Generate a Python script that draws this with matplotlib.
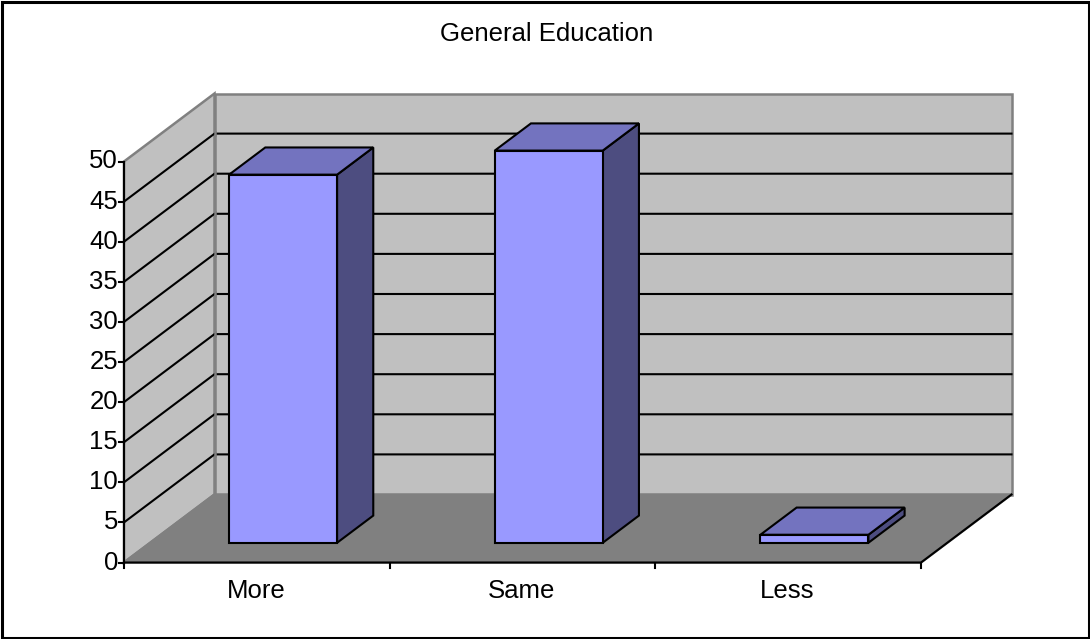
import matplotlib
matplotlib.use('Agg')
import matplotlib.pyplot as plt
from matplotlib.patches import Polygon, Rectangle

plt.rcParams['font.family'] = ['Liberation Sans', 'DejaVu Sans']

categories = ['More', 'Same', 'Less']
values = [45.9, 48.9, 1]
yticks = list(range(0, 55, 5))
title = 'General Education'

# pixels per unit, front plane
px_x = 797 / 3
px_y = 401 / 50
depth_x = 90.5 / px_x
depth_y = 68 / px_y
W, H = 1090, 639
base = 562.5  # pixel row of the zero line

fig = plt.figure(figsize=(W / 100, H / 100), dpi=100)
ax = fig.add_axes([0, 0, 1, 1])
ax.set_xlim(-124 / px_x, (W - 124) / px_x)
ax.set_ylim(-(H - base) / px_y, base / px_y)
ax.axis('off')

# outer frame
ax.add_patch(Polygon([(-122.5 / px_x, -(H - base - 1.5) / px_y), ((W - 125.5) / px_x, -(H - base - 1.5) / px_y),
                      ((W - 125.5) / px_x, (base - 1.5) / px_y), (-122.5 / px_x, (base - 1.5) / px_y)],
                     fc='white', ec='black', lw=2.2, zorder=0))

top = yticks[-1]
n = len(categories)
# walls and floor
ax.add_patch(Polygon([(0, 0), (0, top), (depth_x, top + depth_y), (depth_x, depth_y)], fc='#C0C0C0', ec='#808080', lw=1.8, zorder=1))
ax.add_patch(Polygon([(depth_x, depth_y), (depth_x, top + depth_y), (n + depth_x, top + depth_y), (n + depth_x, depth_y)],
                     fc='#C0C0C0', ec='#808080', lw=1.8, zorder=1))
ax.add_patch(Polygon([(0, 0), (depth_x, depth_y), (n + depth_x, depth_y), (n, 0)], fc='#808080', ec='#808080', lw=1.8, zorder=2))

# grid lines
for t in yticks[1:-1]:
    ax.plot([0, depth_x, n + depth_x], [t, t + depth_y, t + depth_y], color='black', lw=1.5, zorder=2)
    ax.plot([depth_x, depth_x], [t + depth_y - 0.2, t + depth_y + 0.2], color='#808080', lw=1.8, zorder=2)

# axes
ax.plot([0, 0], [0, top], color='black', lw=1.5, zorder=5)
ax.plot([0, n, n + depth_x], [0, 0, depth_y], color='black', lw=1.5, zorder=5)
for t in yticks:
    ax.plot([-5 / px_x, 0], [t, t], color='black', lw=1.5, zorder=5)
    ax.text(-6 / px_x, t, str(t), ha='right', va='center', fontsize=18.5, zorder=5)
for i in range(n + 1):
    ax.plot([i, i], [0, -5 / px_y], color='black', lw=1.5, zorder=5)

# bars
bar_w = 0.4065
start = 0.29
end = 0.69
for i, (c, v) in enumerate(zip(categories, values)):
    x0 = i + 0.5 - bar_w / 2 + start * depth_x
    x1 = x0 + bar_w
    y0 = start * depth_y
    y1 = y0 + v
    dx = (end - start) * depth_x
    dy = (end - start) * depth_y
    ax.add_patch(Polygon([(x1, y0), (x1 + dx, y0 + dy), (x1 + dx, y1 + dy), (x1, y1)], fc='#4D4D80', ec='black', lw=1.5, zorder=3))
    ax.add_patch(Polygon([(x0, y1), (x0 + dx, y1 + dy), (x1 + dx, y1 + dy), (x1, y1)], fc='#7373BF', ec='black', lw=1.5, zorder=3))
    ax.add_patch(Rectangle((x0, y0), bar_w, v, fc='#9999FF', ec='black', lw=1.5, zorder=4))
    ax.text(i + 0.5 - 1 / px_x, -28 / px_y, c, ha='center', va='center', fontsize=18.5, zorder=5)

ax.text((547 - 124) / px_x, (base - 34) / px_y, title, ha='center', va='center', fontsize=18.5)

fig.savefig('out.png', dpi=100)
